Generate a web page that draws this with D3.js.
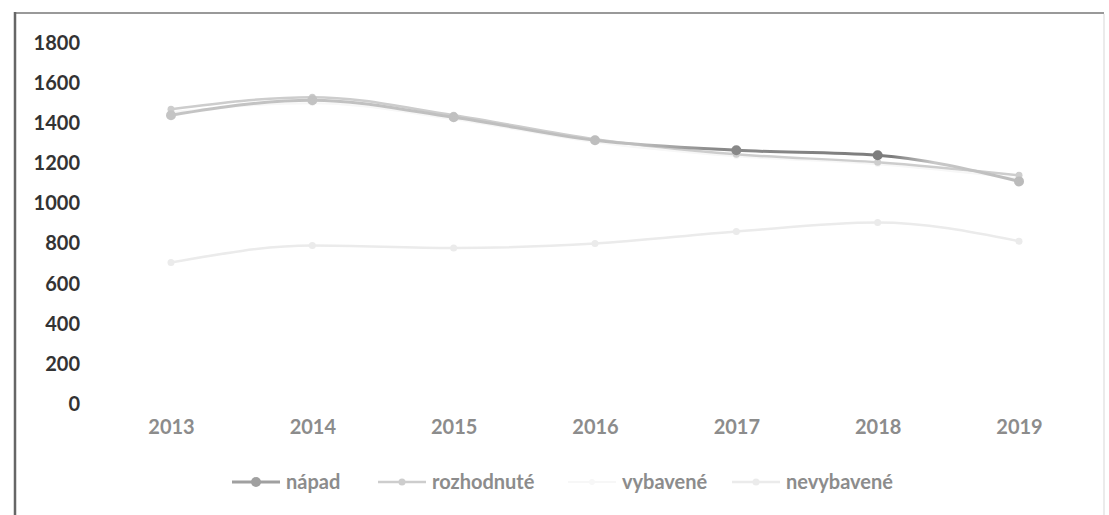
<!DOCTYPE html>
<html>
<head>
<meta charset="utf-8">
<script src="https://cdn.jsdelivr.net/npm/d3@7"></script>
<style>
  body { margin: 0; background: #fff; }
  svg { display: block; }
  text { font-family: Lato, "Open Sans", sans-serif; font-weight: bold; }
</style>
</head>
<body>
<div id="chart"></div>
<script>
var years = ["2013", "2014", "2015", "2016", "2017", "2018", "2019"];
var yTicks = [0, 200, 400, 600, 800, 1000, 1200, 1400, 1600, 1800];
var napad = [1440, 1515, 1430, 1315, 1265, 1240, 1110];
var rozhodnute = [1470, 1530, 1440, 1320, 1245, 1205, 1140];
var vybavene = [1455, 1500, 1420, 1305, 1235, 1195, 1125];
var nevybavene = [705, 790, 778, 800, 860, 905, 812];
var seriesNames = ["nápad", "rozhodnuté", "vybavené", "nevybavené"];

var W = 1109, H = 515;

var series = [
  {name: seriesNames[0], values: napad, color: "url(#napadFade)", key: "#a0a0a0", width: 3, r: 5},
  {name: seriesNames[1], values: rozhodnute, color: "#cdcdcd", key: "#cdcdcd", width: 2.5, r: 3.5},
  {name: seriesNames[2], values: vybavene, color: "#f7f7f7", key: "#f7f7f7", width: 2, r: 3},
  {name: seriesNames[3], values: nevybavene, color: "#ebebeb", key: "#ebebeb", width: 2.5, r: 3.5}
];

var svg = d3.select("#chart").append("svg")
    .attr("width", W)
    .attr("height", H);

var x = d3.scalePoint()
    .domain(years)
    .range([171, 1019]);

var y = d3.scaleLinear()
    .domain([0, 1800])
    .range([404, 43]);

// the scan is darker on the napad line only around 2017-2018
var grad = svg.append("defs").append("linearGradient")
    .attr("id", "napadFade")
    .attr("gradientUnits", "userSpaceOnUse")
    .attr("x1", x("2013")).attr("x2", x("2019"))
    .attr("y1", 0).attr("y2", 0);
[[0, "#c4c4c4"], [0.55, "#bdbdbd"], [0.64, "#8a8a8a"], [0.85, "#7c7c7c"], [0.9, "#c8c8c8"], [1, "#bbbbbb"]]
  .forEach(function(s) {
    grad.append("stop").attr("offset", s[0]).attr("stop-color", s[1]);
  });

// scanned frame
svg.append("line").attr("x1", 15).attr("x2", 1104).attr("y1", 13).attr("y2", 13)
    .attr("stroke", "#777").attr("stroke-width", 1.5);
svg.append("line").attr("x1", 15).attr("x2", 15).attr("y1", 12).attr("y2", H)
    .attr("stroke", "#666").attr("stroke-width", 2.5);
svg.append("line").attr("x1", 1104).attr("x2", 1104).attr("y1", 14).attr("y2", H)
    .attr("stroke", "#e4e4e4").attr("stroke-width", 1.5);

var yAxis = d3.axisLeft(y).tickValues(yTicks).tickFormat(d3.format("d")).tickSize(0).tickPadding(0);
var gy = svg.append("g")
    .attr("transform", "translate(80,0)")
    .call(yAxis);
gy.select(".domain").remove();
gy.selectAll("text")
    .attr("fill", "#333")
    .style("font-size", "20px");

var xAxis = d3.axisBottom(x).tickSize(0).tickPadding(0);
var gx = svg.append("g")
    .attr("transform", "translate(0,420)")
    .call(xAxis);
gx.select(".domain").remove();
gx.selectAll("text")
    .attr("fill", "#8c8c8c")
    .style("font-size", "20px");

var line = d3.line()
    .x(function(d, i) { return x(years[i]); })
    .y(function(d) { return y(d); })
    .curve(d3.curveMonotoneX);

// draw back to front so napad sits on top
series.slice().reverse().forEach(function(s) {
  svg.append("path")
      .datum(s.values)
      .attr("fill", "none")
      .attr("stroke", s.color)
      .attr("stroke-width", s.width)
      .attr("stroke-linecap", "round")
      .attr("d", line);
  svg.selectAll(null)
      .data(s.values)
    .enter().append("circle")
      .attr("cx", function(d, i) { return x(years[i]); })
      .attr("cy", function(d) { return y(d); })
      .attr("r", s.r)
      .attr("fill", s.color);
});

// legend
var legendX = [232, 378, 568, 732];
var legend = svg.selectAll(".legend")
    .data(series)
  .enter().append("g")
    .attr("class", "legend")
    .attr("transform", function(d, i) { return "translate(" + legendX[i] + ",482)"; });

legend.append("line")
    .attr("x1", 0).attr("x2", 48)
    .attr("stroke", function(d) { return d.key; })
    .attr("stroke-width", function(d) { return d.width; });
legend.append("circle")
    .attr("cx", 24)
    .attr("r", function(d) { return d.r; })
    .attr("fill", function(d) { return d.key; });
legend.append("text")
    .attr("x", 54)
    .attr("dy", "0.35em")
    .attr("fill", "#8c8c8c")
    .style("font-size", "20px")
    .text(function(d) { return d.name; });
</script>
</body>
</html>
